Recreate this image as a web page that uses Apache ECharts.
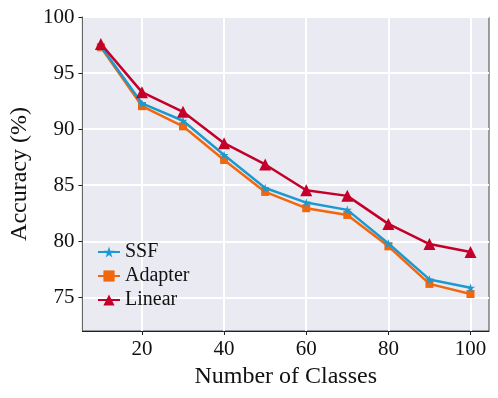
<!DOCTYPE html>
<html>
<head>
<meta charset="utf-8">
<script src="https://cdn.jsdelivr.net/npm/echarts@6/dist/echarts.min.js"></script>
<style>html,body{margin:0;padding:0;background:#fff}#c{width:498px;height:398px}</style>
</head>
<body>
<div id="c"></div>
<script>
const classes = [10, 20, 30, 40, 50, 60, 70, 80, 90, 100];
const ssf     = [97.4, 92.3, 90.75, 87.7, 84.75, 83.45, 82.8, 79.8, 76.6, 75.85];
const adapter = [97.3, 92.05, 90.25, 87.25, 84.4, 82.95, 82.35, 79.55, 76.2, 75.3];
const linear  = [97.6, 93.3, 91.55, 88.75, 86.85, 84.55, 84.05, 81.55, 79.75, 79.05];
const xTicks = [20, 40, 60, 80, 100];
const yTicks = [75, 80, 85, 90, 95, 100];

const font = 'Liberation Serif';
const pairs = arr => classes.map((c, i) => [c, arr[i]]);

const chart = echarts.init(document.getElementById('c'), null, {renderer: 'canvas'});
chart.setOption({
  animation: false,
  backgroundColor: '#ffffff',
  grid: {left: 80, top: 17, right: 9, bottom: 67, show: true, backgroundColor: '#EAEAF2', borderColor: '#444', borderWidth: 1},
  xAxis: {
    type: 'value', min: 5.5, max: 104.5,
    name: 'Number of Classes', nameLocation: 'middle', nameGap: 28,
    nameTextStyle: {fontFamily: font, fontSize: 24, color: '#111'},
    axisLine: {show: true, lineStyle: {color: '#222', width: 1}},
    axisTick: {show: true, length: 4, customValues: xTicks, lineStyle: {color: '#222'}},
    axisLabel: {customValues: xTicks, fontFamily: font, fontSize: 21, color: '#111', margin: 8},
    splitLine: {show: true, lineStyle: {color: '#ffffff', width: 2}}
  },
  yAxis: {
    type: 'value', min: 72, max: 100,
    name: 'Accuracy (%)', nameLocation: 'middle', nameGap: 46,
    nameTextStyle: {fontFamily: font, fontSize: 24, color: '#111'},
    axisLine: {show: true, lineStyle: {color: '#666', width: 1}},
    axisTick: {show: true, length: 4, customValues: yTicks, lineStyle: {color: '#222'}},
    axisLabel: {customValues: yTicks, fontFamily: font, fontSize: 21, color: '#111', margin: 8},
    splitLine: {show: true, lineStyle: {color: '#ffffff', width: 2}}
  },
  legend: {
    orient: 'vertical', left: 92, top: 237, itemGap: 4, itemWidth: 22, itemHeight: 14,
    textStyle: {fontFamily: font, fontSize: 20, color: '#111'},
    data: ['SSF', 'Adapter', 'Linear']
  },
  series: [
    {name: 'SSF', type: 'line', data: pairs(ssf), color: '#1c9ad0', symbol: 'path://M50,0 L61,35 L98,35 L68,57 L79,91 L50,70 L21,91 L32,57 L2,35 L39,35 Z', symbolSize: 9, lineStyle: {width: 2.5}, z: 3},
    {name: 'Adapter', type: 'line', data: pairs(adapter), color: '#f2660c', symbol: 'rect', symbolSize: 8, lineStyle: {width: 2.5}, z: 2},
    {name: 'Linear', type: 'line', data: pairs(linear), color: '#c4002a', symbol: 'triangle', symbolSize: 12, lineStyle: {width: 2.5}, z: 4}
  ]
});
</script>
</body>
</html>
